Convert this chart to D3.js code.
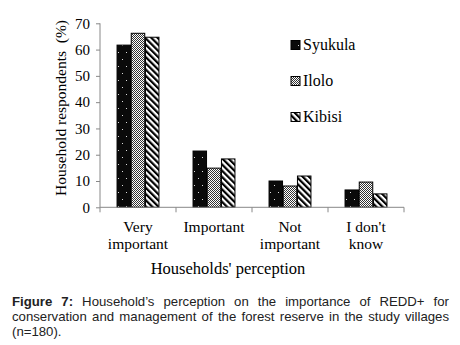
<!DOCTYPE html>
<html><head><meta charset="utf-8">
<script src="https://cdn.jsdelivr.net/npm/d3@7"></script>
<style>
body{margin:0;background:#fff;}
#cap{position:absolute;left:12px;top:294px;width:437px;font-family:"Liberation Sans",Arial,sans-serif;font-size:13.2px;line-height:15px;color:#222;}
#cap .j{text-align:justify;text-align-last:justify;white-space:nowrap;}
</style></head>
<body>
<svg id="chart" width="460" height="290" style="position:absolute;left:0;top:0"></svg>
<div id="cap"></div>
<script>
const categories = [["Very","important"],["Important"],["Not","important"],["I don't","know"]];
const seriesNames = ["Syukula","Ilolo","Kibisi"];
const syukula = [61.7, 21.4, 10.0, 6.6];
const ilolo   = [66.2, 14.9, 8.1, 9.6];
const kibisi  = [64.7, 18.4, 11.9, 5.1];
const yTicks = [0,10,20,30,40,50,60,70];
const captionBold = "Figure 7:";
const captionLines = ["Household’s perception on the importance of REDD+ for",
  "conservation and management of the forest reserve in the study villages",
  "(n=180)."];

const cap = d3.select("#cap");
const l1 = cap.append("div").attr("class","j");
l1.append("b").style("word-spacing","inherit").text(captionBold);
l1.append("span").text(" " + captionLines[0]);
cap.append("div").attr("class","j").text(captionLines[1]);
cap.append("div").text(captionLines[2]);

const series = [syukula, ilolo, kibisi];
const svg = d3.select("#chart");
const defs = svg.append("defs");
const p1 = defs.append("pattern").attr("id","pSy").attr("patternUnits","userSpaceOnUse").attr("width",8).attr("height",14);
p1.append("rect").attr("width",8).attr("height",14).attr("fill","#0a0a0a");
p1.append("rect").attr("x",2).attr("y",3).attr("width",1).attr("height",1).attr("fill","#ddd");
p1.append("rect").attr("x",6).attr("y",10).attr("width",1).attr("height",1).attr("fill","#ddd");
const p2 = defs.append("pattern").attr("id","pIl").attr("patternUnits","userSpaceOnUse").attr("width",2).attr("height",2);
p2.append("rect").attr("width",2).attr("height",2).attr("fill","#fff");
p2.append("rect").attr("x",0).attr("y",0).attr("width",1).attr("height",1).attr("fill","#333");
p2.append("rect").attr("x",1).attr("y",1).attr("width",1).attr("height",1).attr("fill","#333");
const p3 = defs.append("pattern").attr("id","pKi").attr("patternUnits","userSpaceOnUse").attr("width",4.4).attr("height",4.4).attr("patternTransform","rotate(-45)");
p3.append("rect").attr("width",4.4).attr("height",4.4).attr("fill","#fff");
p3.append("rect").attr("width",2.2).attr("height",4.4).attr("fill","#000");
const fills = ["url(#pSy)","url(#pIl)","url(#pKi)"];

const x0 = d3.scaleBand().domain(d3.range(categories.length)).range([100,404]).paddingInner(0).paddingOuter(0);
const x1 = d3.scaleBand().domain(d3.range(series.length)).range([0,x0.bandwidth()]).paddingOuter(1.2).paddingInner(0.05);
const y = d3.scaleLinear().domain([0,70]).range([207.3,23.3]);

const serif = "'Liberation Serif','Times New Roman',serif";
const ya = svg.append("g").attr("transform","translate(100,0)")
  .call(d3.axisLeft(y).tickValues(yTicks).tickSize(4).tickPadding(6).tickFormat(d3.format("d")));
ya.select(".domain").attr("stroke","#888").attr("d","M0,23.3V207.3");
ya.selectAll(".tick line").attr("stroke","#888");
ya.selectAll("text").attr("font-family",serif).attr("font-size",15).attr("fill","#000");

categories.forEach((c,i)=>{
  series.forEach((s,j)=>{
    svg.append("rect").attr("x",x0(i)+x1(j)).attr("width",x1.bandwidth())
      .attr("y",y(s[i])).attr("height",y(0)-y(s[i]))
      .attr("fill",fills[j]).attr("stroke","#000").attr("stroke-width",1);
  });
});

const xa = svg.append("g").attr("transform","translate(0,207.3)");
xa.append("line").attr("x1",100).attr("x2",404).attr("stroke","#888");
d3.range(categories.length+1).forEach(i=>{
  const xx = 100 + i*x0.bandwidth();
  xa.append("line").attr("x1",xx).attr("x2",xx).attr("y1",0).attr("y2",5).attr("stroke","#888");
});
categories.forEach((c,i)=>{
  const t = svg.append("text").attr("x",x0(i)+x0.bandwidth()/2).attr("y",232)
    .attr("text-anchor","middle").attr("font-family",serif).attr("font-size",15.5);
  c.forEach((l,k)=>t.append("tspan").attr("x",x0(i)+x0.bandwidth()/2).attr("dy",k?17:0).text(l));
});
svg.append("text").attr("x",228).attr("y",274).attr("text-anchor","middle")
  .attr("font-family",serif).attr("font-size",16.5).text("Households' perception");
svg.append("text").attr("transform","translate(66,108) rotate(-90)").attr("text-anchor","middle")
  .attr("font-family",serif).attr("font-size",15.5).attr("xml:space","preserve").text("Household respondents  (%)");

seriesNames.forEach((n,j)=>{
  const ly = 45 + j*36;
  svg.append("rect").attr("x",291).attr("y",ly-4.5).attr("width",9).attr("height",9)
    .attr("fill",fills[j]).attr("stroke","#000").attr("stroke-width",1);
  svg.append("text").attr("x",303).attr("y",ly+5).attr("font-family",serif).attr("font-size",16).text(n);
});
</script>
</body></html>
